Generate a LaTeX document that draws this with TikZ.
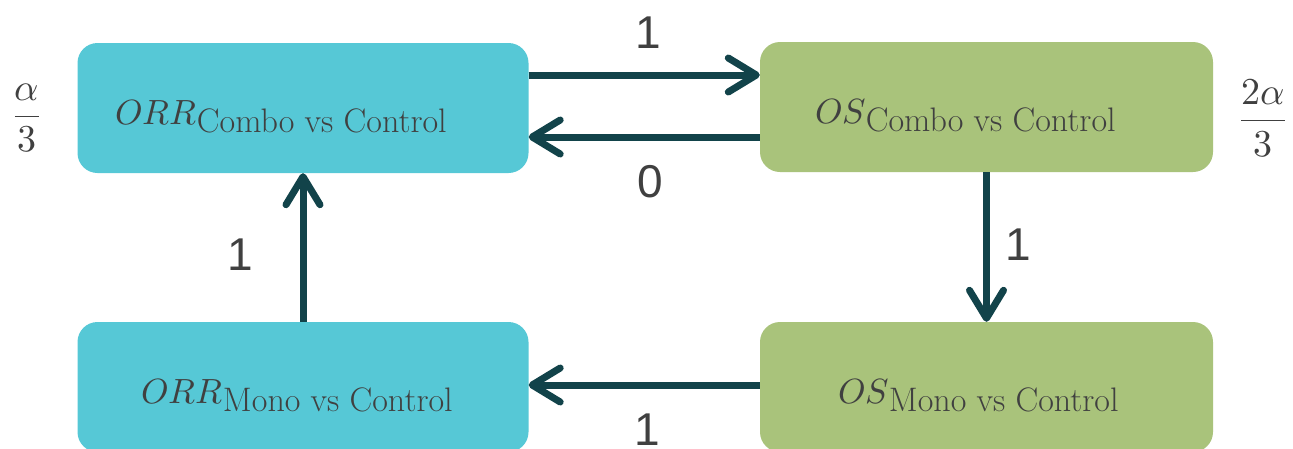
\documentclass[tikz,border=0pt]{standalone}
\usepackage{amsmath}
\usepackage{fontspec}
\usepackage{unicode-math}
\newfontfamily\labelfont{Liberation Sans}
\usetikzlibrary{arrows.meta}
\definecolor{boxcyan}{HTML}{56C8D6}
\definecolor{boxgreen}{HTML}{A9C37B}
\definecolor{arrowteal}{HTML}{12434A}
\definecolor{txtgray}{HTML}{404040}
\newcommand{\boxlabel}[3]{{\fontsize{35}{40}\selectfont$#1$\raisebox{-8pt}{\fontsize{34}{34}\selectfont #2}\hspace*{#3}}}
\tikzset{
  stepbox/.style={rounded corners=20pt, minimum width=451pt, minimum height=130pt, inner sep=0pt, text=txtgray, text height=40pt, text depth=7pt},
  arr/.style={line width=7pt, draw=arrowteal, -{Straight Barb[length=28pt, width=34pt, line cap=round, round]}},
  numlabel/.style={text=txtgray, font=\labelfont\fontsize{46}{46}\selectfont, inner sep=0pt},
  fraclabel/.style={text=txtgray, font=\fontsize{38}{40}\selectfont, inner sep=0pt}
}
\begin{document}
\begin{tikzpicture}[x=1pt, y=-1pt]
\useasboundingbox (0,0) rectangle (1293,448);
\clip (0,0) rectangle (1293,448);
\node[stepbox, fill=boxcyan] (orrc) at (303,108) {\boxlabel{ORR}{Combo vs Control}{44pt}};
\node[stepbox, fill=boxgreen, minimum width=453pt] (osc) at (986.5,107) {\boxlabel{OS}{Combo vs Control}{42pt}};
\node[stepbox, fill=boxcyan] (orrm) at (303,387) {\boxlabel{ORR}{Mono vs Control}{12pt}};
\node[stepbox, fill=boxgreen, minimum width=453pt] (osm) at (986.5,387) {\boxlabel{OS}{Mono vs Control}{16pt}};
\draw[arr] ([yshift=33pt]orrc.east) -- ([yshift=32pt]osc.west);
\draw[arr] ([yshift=-30pt]osc.west) -- ([yshift=-29pt]orrc.east);
\draw[arr] (osc.south) -- (osm.north);
\draw[arr] (orrm.north) -- (orrc.south);
\draw[arr] ([yshift=2pt]osm.west) -- ([yshift=2pt]orrm.east);
\node[numlabel] (l1) at (648,33) {1};
\node[numlabel] (l0) at (650,182) {0};
\node[numlabel] (l2) at (1018,245) {1};
\node[numlabel] (l3) at (240,255) {1};
\node[numlabel] (l4) at (647,430) {1};
\node[fraclabel] (fa) at (27,118) {$\dfrac{\alpha}{3}$};
\node[fraclabel] (fb) at (1263,118) {$\dfrac{2\alpha}{3}$};
\end{tikzpicture}
\end{document}
